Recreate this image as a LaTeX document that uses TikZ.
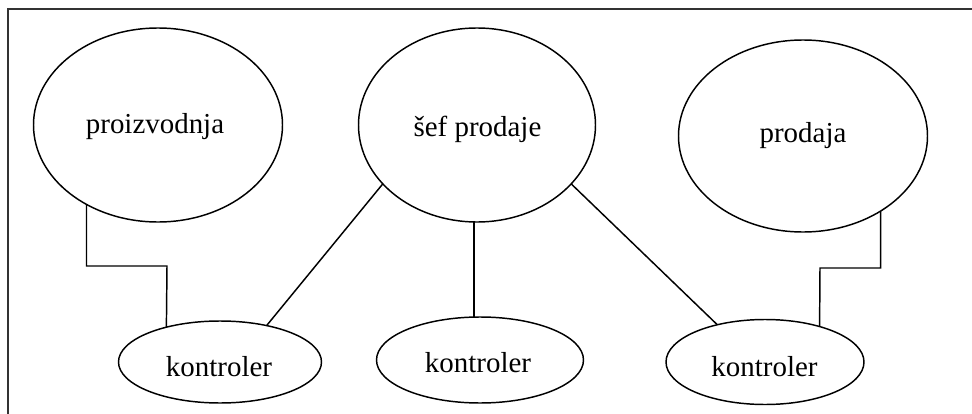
\documentclass[tikz,border=0pt]{standalone}
\usepackage{fontspec}
\setmainfont{Liberation Serif}
\usetikzlibrary{shapes.geometric}

\begin{document}
\begin{tikzpicture}[x=0.75pt,y=0.75pt,yscale=-1,xscale=1,
  oval/.style={draw, ellipse, line width=1.1pt, inner sep=0pt, outer sep=0pt},
  veza/.style={draw, line width=1.1pt},
  tekst/.style={anchor=base, inner sep=0.75pt, font=\fontsize{21.7}{26}\selectfont}]
\useasboundingbox (0,0) rectangle (972,414);

%Frame (only top and left edges fall inside the picture)
\draw [line width=1.2pt, color=black!80] (972,9) -- (8,9) -- (8,414) ;

%Shape: Ellipse
\node [oval, minimum width=186.75pt, minimum height=145.5pt] (proiz) at (158,125) {};
%Shape: Ellipse
\node [oval, minimum width=177.75pt, minimum height=145.5pt] (sef) at (477,125) {};
%Shape: Ellipse
\node [oval, minimum width=186.75pt, minimum height=144pt] (prod) at (803,136) {};
%Shape: Ellipse
\node [oval, minimum width=152.25pt, minimum height=61.5pt] (kl) at (220,362) {};
%Shape: Ellipse
\node [oval, minimum width=155.25pt, minimum height=64.5pt] (km) at (480,360) {};
%Shape: Ellipse
\node [oval, minimum width=148.5pt, minimum height=63.75pt] (kr) at (765,362) {};

\coordinate (lbend) at (167,266);
\coordinate (rbend) at (820,268);

%Connectors
\draw [veza] (proiz.228) |- (lbend) -- (kl.147) ;
\draw [veza] (sef.212) -- (kl.38) ;
\draw [veza] ([xshift=-2.25pt]sef.south) -- ([xshift=-2.25pt]sef.south |- km.north) ;
\draw [veza] (sef.328) -- (kr.142) ;
\draw [veza] (prod.316) |- (rbend) -- (kr.33) ;

% Text Node
\node [tekst] (tproiz) at (155,133) {proizvodnja};
% Text Node
\node [tekst] (tsef) at (477.5,136) {šef prodaje};
% Text Node
\node [tekst] (tprod) at (803,142) {prodaja};
% Text Node
\node [tekst] (tkl) at (219,376) {kontroler};
% Text Node
\node [tekst] (tkm) at (478,372) {kontroler};
% Text Node
\node [tekst] (tkr) at (764.5,376) {kontroler};

\end{tikzpicture}
\end{document}
